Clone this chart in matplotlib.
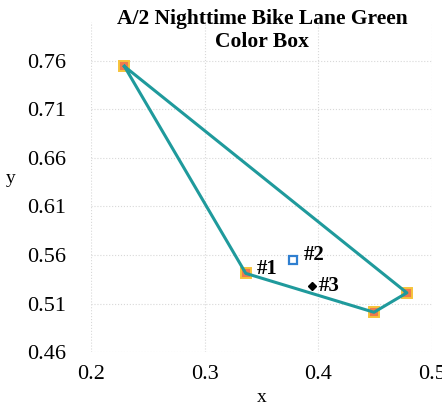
import numpy as np
import matplotlib
matplotlib.use("Agg")
import matplotlib.pyplot as plt

plt.rcParams["font.family"] = ["Liberation Serif", "DejaVu Serif"]

# color box corners (closed polygon)
box_x = [0.229, 0.336, 0.449, 0.478, 0.229]
box_y = [0.754, 0.541, 0.501, 0.521, 0.754]

# measured samples
pt2_x, pt2_y = 0.378, 0.555
pt3_x, pt3_y = 0.394, 0.528

labels = ["#1", "#2", "#3"]
label_x = [0.346, 0.387, 0.400]
label_y = [0.545, 0.560, 0.528]

xticks = [0.2, 0.3, 0.4, 0.5]
yticks = [0.46, 0.51, 0.56, 0.61, 0.66, 0.71, 0.76]

fig = plt.figure(figsize=(4.42, 4.08), dpi=100)
fig.patch.set_facecolor("white")
ax = fig.add_axes([0.207, 0.137, 0.77, 0.81])

ax.plot(box_x, box_y, color="#1f9a9c", lw=2.2, zorder=3)
ax.plot(box_x[:-1], box_y[:-1], ls="none", marker="s", ms=7.5,
        markerfacecolor="#ee7a4e", markeredgecolor="#f6c33a", mew=1.4, zorder=2)
ax.plot(pt2_x, pt2_y, ls="none", marker="s", ms=6,
        markerfacecolor="white", markeredgecolor="#2f7fd0", mew=1.6, zorder=4)
ax.plot(pt3_x, pt3_y, ls="none", marker="D", ms=4, color="black", zorder=4)

for lab, lx, ly in zip(labels, label_x, label_y):
    ax.text(lx, ly, lab, fontsize=15, fontweight="bold",
            ha="left", va="center")

ax.set_xlim(0.2, 0.5)
ax.set_ylim(0.46, 0.80)
ax.set_xticks(xticks)
ax.set_xticklabels([f"{v:g}" for v in xticks])
ax.set_yticks(yticks)
ax.set_yticklabels([f"{v:.2f}" for v in yticks])
ax.tick_params(length=0, labelsize=16, pad=9)
ax.tick_params(axis="y", pad=18)
for s in ax.spines.values():
    s.set_visible(False)
ax.grid(True, color="#d8d8d8", lw=0.8, ls=":")

ax.set_xlabel("x", fontsize=14, labelpad=4)
ax.set_ylabel("y", fontsize=14, rotation=0, labelpad=12)

fig.text(0.593, 0.926, "A/2 Nighttime Bike Lane Green\nColor Box", ha="center",
         va="center", fontsize=15.5, fontweight="bold", linespacing=1.2)

fig.savefig("out.png", dpi=100)
